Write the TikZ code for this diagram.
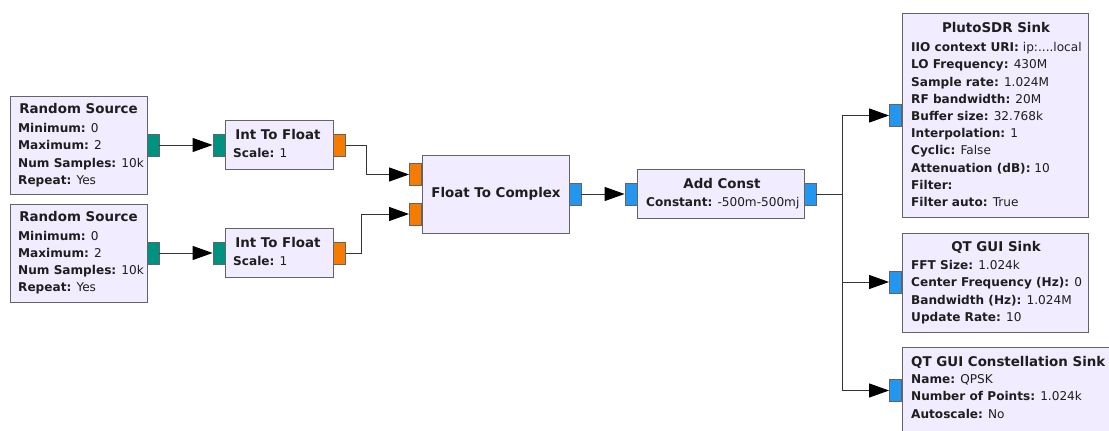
\documentclass[tikz,border=0pt]{standalone}
\usepackage{fontspec}
\setmainfont{DejaVu Sans}
\usetikzlibrary{arrows.meta}
\definecolor{boxfill}{RGB}{241,236,255}
\definecolor{boxline}{RGB}{100,100,100}
\definecolor{intport}{RGB}{0,146,128}
\definecolor{fltport}{RGB}{245,124,0}
\definecolor{cpxport}{RGB}{35,150,240}
\definecolor{txt}{RGB}{30,30,30}
\newcommand\pk[2]{\textbf{#1:} #2}
\begin{document}
\begin{tikzpicture}[x=1pt,y=-1pt,
  blk/.style={draw=boxline,fill=boxfill,line width=1.2pt,rectangle,inner sep=0pt,anchor=north west},
  port/.style={draw=boxline,line width=0.8pt,rectangle,inner sep=0pt,minimum width=12pt,minimum height=22pt},
  ttl/.style={font=\fontsize{13.4}{17.2}\selectfont\bfseries,text=txt,inner sep=0pt,anchor=base},
  prm/.style={font=\fontsize{12.1}{17.2}\selectfont,text=txt,inner sep=0pt,align=left,anchor=base west},
  wire/.style={draw=black!80,line width=1pt,-{Triangle[length=20pt,width=14pt,fill=black,color=black]}},
  seg/.style={draw=black!80,line width=1pt}]
\fill[white] (0,0) rectangle (1109,431);
\useasboundingbox (0,0) rectangle (1109,431);
\clip (0,0) rectangle (1109,431);

% Random Source 1  (anchor = baseline of last line)
\node[blk,minimum width=137pt,minimum height=98pt] (rs1) at (10,96) {};
\node[ttl] (rs1t) at (78.5,113.7) {Random Source};
\node[prm] (rs1p) at (18,184.3) {\pk{Minimum}{0}\\\pk{Maximum}{2}\\\pk{Num Samples}{10k}\\\pk{Repeat}{Yes}};
\node[port,fill=intport] (rs1o) at (153,145) {};

% Random Source 2
\node[blk,minimum width=137pt,minimum height=98pt] (rs2) at (10,203.5) {};
\node[ttl] (rs2t) at (78.5,221.2) {Random Source};
\node[prm] (rs2p) at (18,291.8) {\pk{Minimum}{0}\\\pk{Maximum}{2}\\\pk{Num Samples}{10k}\\\pk{Repeat}{Yes}};
\node[port,fill=intport] (rs2o) at (153,253) {};

% Int To Float 1
\node[blk,minimum width=108pt,minimum height=49pt] (itf1) at (225,120) {};
\node[ttl] (itf1t) at (278,139.7) {Int To Float};
\node[prm] (itf1p) at (233,157.7) {\pk{Scale}{1}};
\node[port,fill=intport] (itf1i) at (219,145) {};
\node[port,fill=fltport] (itf1o) at (339.5,145) {};

% Int To Float 2
\node[blk,minimum width=108pt,minimum height=49pt] (itf2) at (225,228) {};
\node[ttl] (itf2t) at (278,247.7) {Int To Float};
\node[prm] (itf2p) at (233,265.7) {\pk{Scale}{1}};
\node[port,fill=intport] (itf2i) at (219,253) {};
\node[port,fill=fltport] (itf2o) at (339.5,253) {};

% Float To Complex
\node[blk,minimum width=147pt,minimum height=78pt] (f2c) at (422,155) {};
\node[ttl] (f2ct) at (496,197.7) {Float To Complex};
\node[port,fill=fltport] (f2ci1) at (415.5,174.5) {};
\node[port,fill=fltport] (f2ci2) at (415.5,214) {};
\node[port,fill=cpxport] (f2co) at (575,194) {};

% Add Const
\node[blk,minimum width=167pt,minimum height=49pt] (ac) at (637,169) {};
\node[ttl] (act) at (722,188.7) {Add Const};
\node[prm] (acp) at (646,206.7) {\pk{Constant}{-500m-500mj}};
\node[port,fill=cpxport] (aci) at (631,194) {};
\node[port,fill=cpxport] (aco) at (810,194) {};

% PlutoSDR Sink
\node[blk,minimum width=186pt,minimum height=204pt] (pl) at (902,13) {};
\node[ttl] (plt) at (996,32.7) {PlutoSDR Sink};
\node[prm] (plp) at (911,206.5) {\pk{IIO context URI}{ip:....local}\\\pk{LO Frequency}{430M}\\\pk{Sample rate}{1.024M}\\\pk{RF bandwidth}{20M}\\\pk{Buffer size}{32.768k}\\\pk{Interpolation}{1}\\\pk{Cyclic}{False}\\\pk{Attenuation (dB)}{10}\\\textbf{Filter:}\\\pk{Filter auto}{True}};
\node[port,fill=cpxport] (pli) at (895.5,115.5) {};

% QT GUI Sink
\node[blk,minimum width=186pt,minimum height=99pt] (qt) at (902,233) {};
\node[ttl] (qtt) at (996,251.7) {QT GUI Sink};
\node[prm] (qtp) at (911,321.3) {\pk{FFT Size}{1.024k}\\\pk{Center Frequency (Hz)}{0}\\\pk{Bandwidth (Hz)}{1.024M}\\\pk{Update Rate}{10}};
\node[port,fill=cpxport] (qti) at (895.5,282) {};

% QT GUI Constellation Sink
\node[blk,minimum width=220pt,minimum height=100pt] (cs) at (902,347) {};
\node[ttl,anchor=base west] (cst) at (911,366.7) {QT GUI Constellation Sink};
\node[prm] (csp) at (911,418.1) {\pk{Name}{QPSK}\\\pk{Number of Points}{1.024k}\\\pk{Autoscale}{No}};
\node[port,fill=cpxport] (csi) at (895.5,390.5) {};

% connections
\draw[wire] (rs1o.east) -- (itf1i.west);
\draw[wire] (rs2o.east) -- (itf2i.west);
\draw[wire] (itf1o.east) -- ++(20.5,0) |- (f2ci1.west);
\draw[wire] (itf2o.east) -- ++(15.5,0) |- (f2ci2.west);
\draw[wire] (f2co.east) -- (aci.west);
\draw[wire] (aco.east) -- ++(26,0) |- (pli.west);
\draw[wire] (aco.east) -- ++(26,0) |- (qti.west);
\draw[wire] (aco.east) -- ++(26,0) |- (csi.west);
\end{tikzpicture}
\end{document}
